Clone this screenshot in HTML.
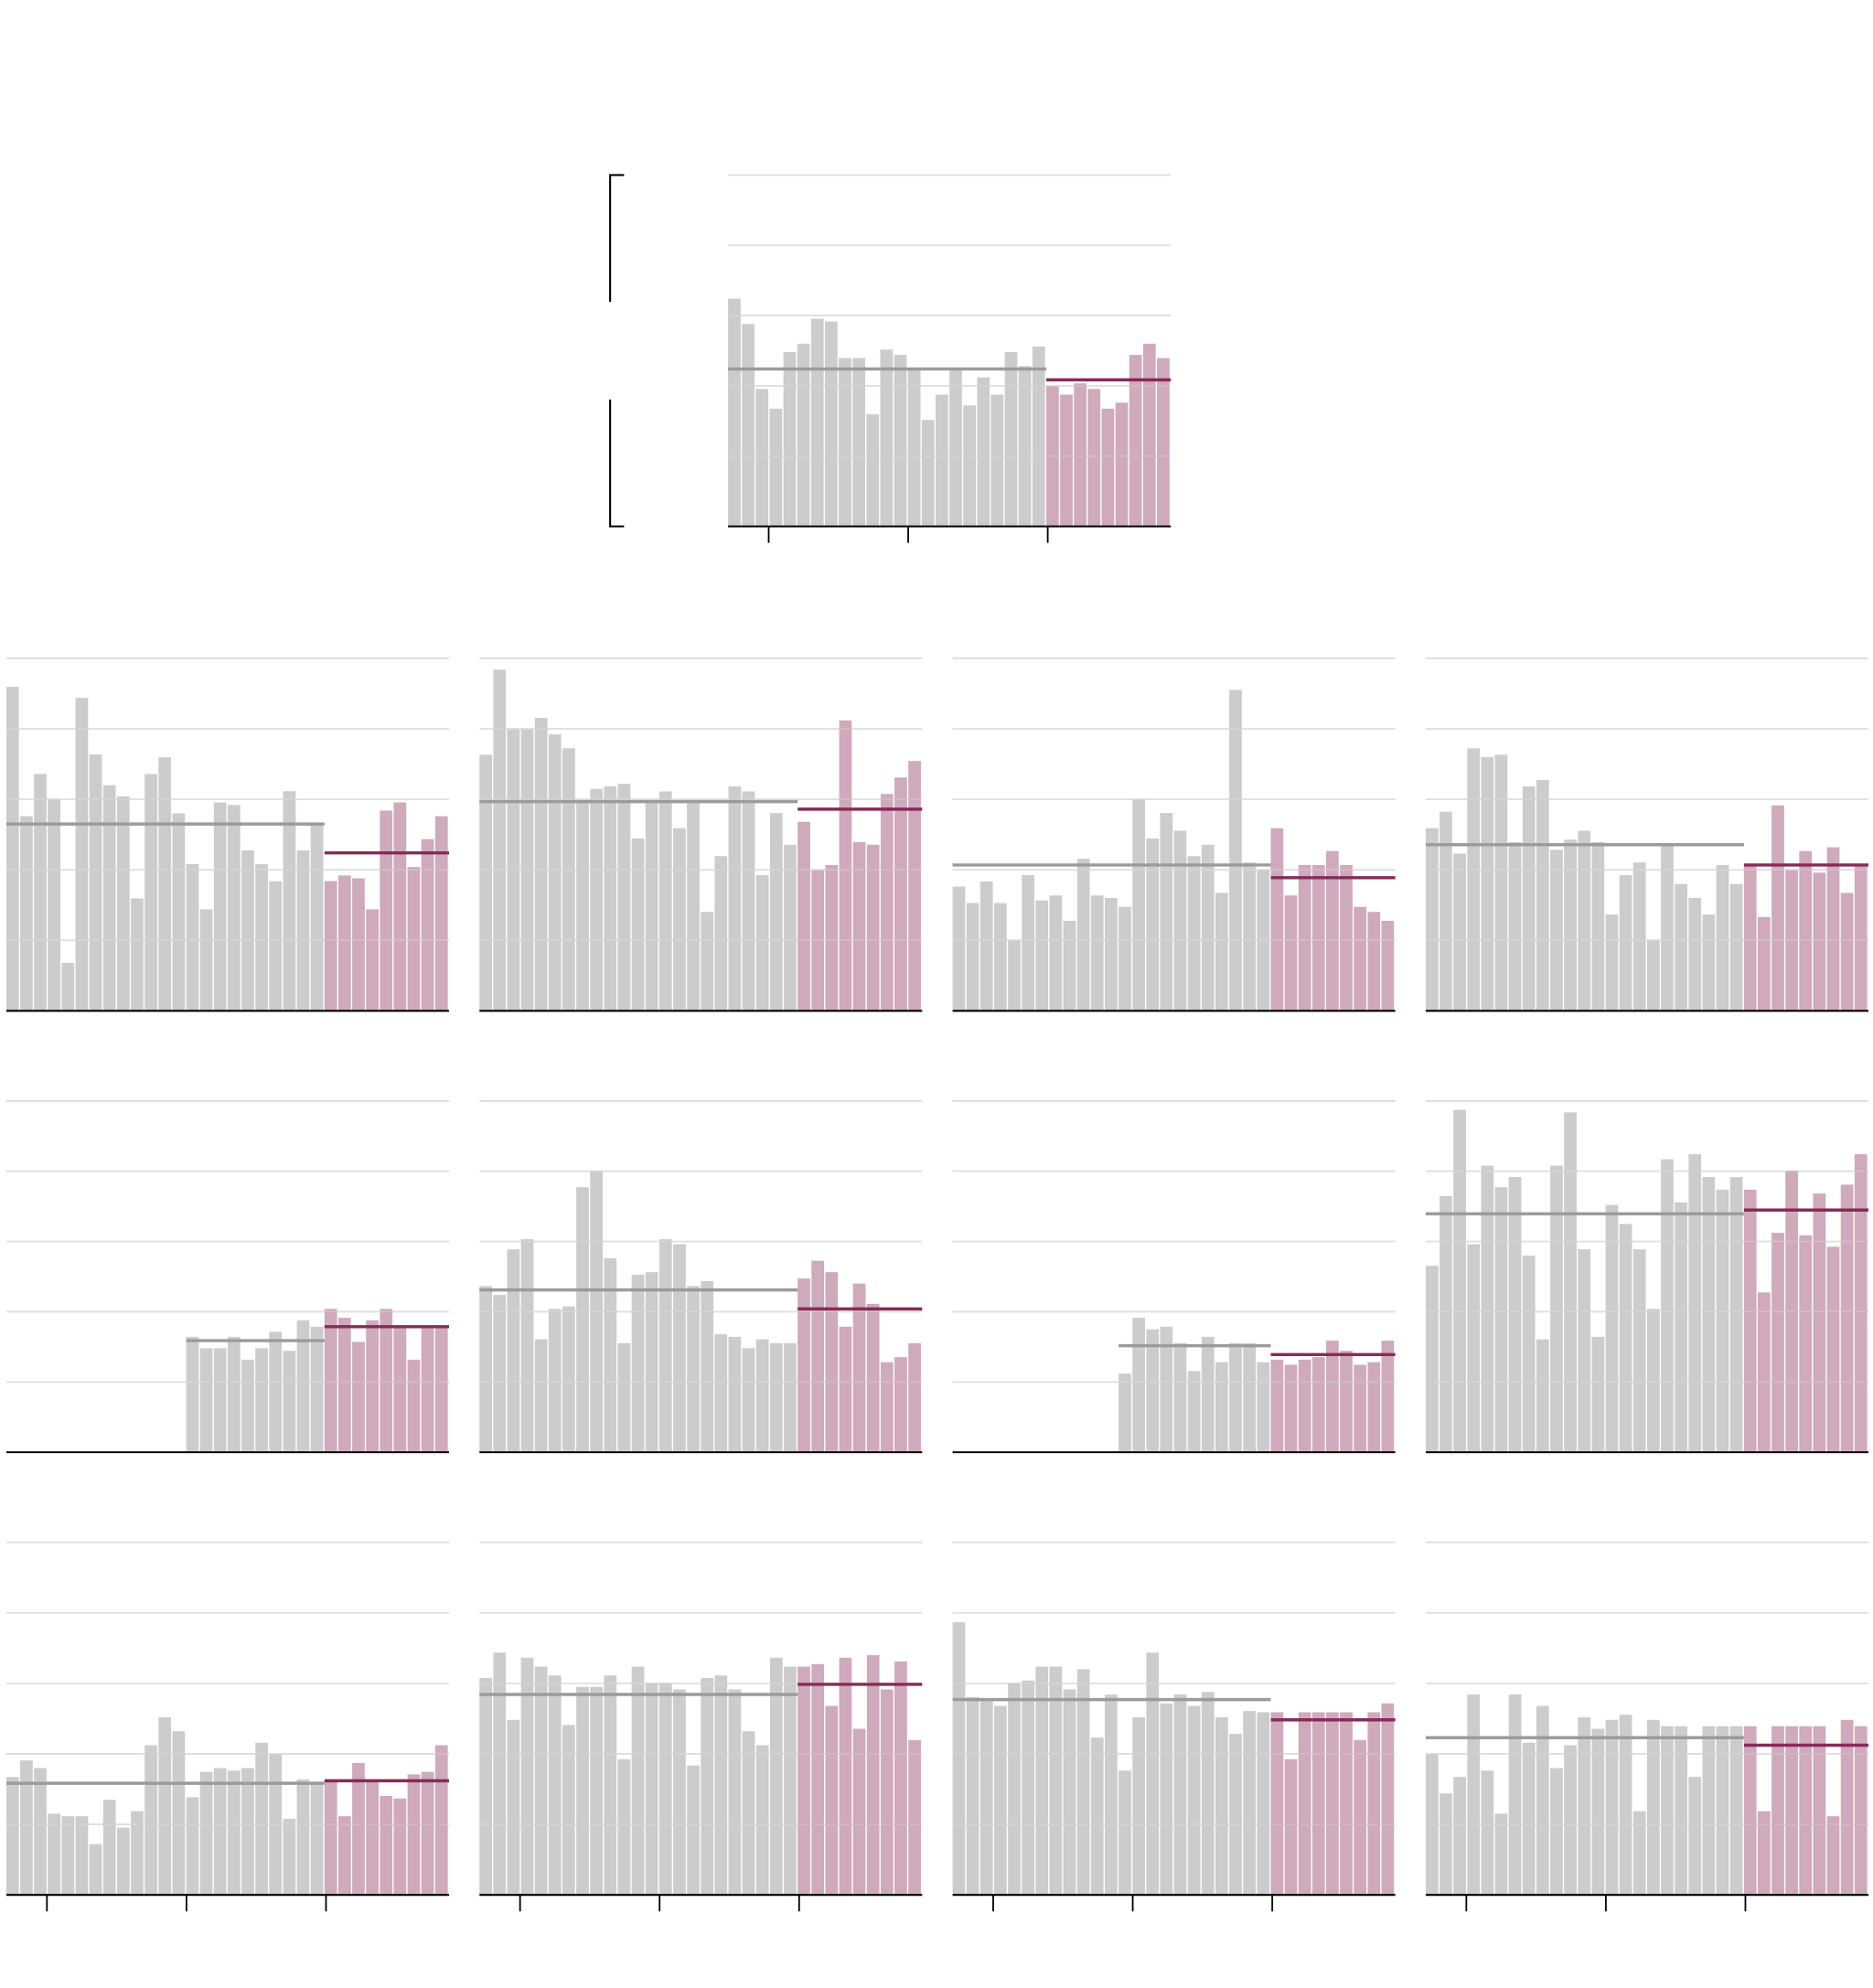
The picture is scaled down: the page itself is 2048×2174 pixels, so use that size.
<!DOCTYPE html>
<html><head><meta charset="utf-8">
<style>html,body{margin:0;padding:0;background:#fff;}svg{display:block;}</style>
</head><body>
<svg id="s" xmlns="http://www.w3.org/2000/svg" width="2048" height="2174" viewBox="0 0 1476.6 1567.4" preserveAspectRatio="none"></svg>
<script>
var NS="http://www.w3.org/2000/svg",S=document.getElementById("s");
function el(t,a){var e=document.createElementNS(NS,t);for(var k in a)e.setAttribute(k,a[k]);S.appendChild(e);return e;}
function panel(x0,top,base,gray,pink,gm,pm,gstart,ticks){
  var w=349,bw=w/32,H=base-top;
  for(var i=0;i<5;i++){var y=top+i*H/5;el("line",{x1:x0,x2:x0+w,y1:y,y2:y,stroke:"#dcdcdc","stroke-width":1.3});}
  var gs=gstart||0;
  for(var i=0;i<gray.length;i++){var bx=x0+(gs+i)*bw;el("rect",{x:bx,y:gray[i],width:bw-1,height:base-gray[i],fill:"#cccccc"});}
  for(var i=0;i<pink.length;i++){var bx=x0+(23+i)*bw;el("rect",{x:bx,y:pink[i],width:bw-1,height:base-pink[i],fill:"#cfa9bc"});}
  for(var i=1;i<5;i++){var y=top+i*H/5;el("line",{x1:x0,x2:x0+w,y1:y,y2:y,stroke:"#e4e4e4","stroke-width":1,"stroke-opacity":0.35});}
  el("line",{x1:x0+gs*bw,x2:x0+23*bw,y1:gm,y2:gm,stroke:"#9b9b9b","stroke-width":2.5});
  el("line",{x1:x0+23*bw,x2:x0+w,y1:pm,y2:pm,stroke:"#862b59","stroke-width":2.5});
  el("line",{x1:x0,x2:x0+w,y1:base,y2:base,stroke:"#000","stroke-width":1.5});
  if(ticks){[32,142,252].forEach(function(d){el("line",{x1:x0+d,x2:x0+d,y1:base,y2:base+13,stroke:"#000","stroke-width":1.3});});}
}
(function(){
  var top=138,base=415,H=base-top;
  var g=[.648,.576,.391,.335,.496,.520,.591,.583,.479,.479,.319,.503,.488,.448,.303,.375,.448,.344,.424,.375,.496,.456,.512];
  var p=[.399,.375,.407,.391,.335,.352,.488,.520,.479];
  panel(574,top,base,g.map(function(v){return base-v*H;}),p.map(function(v){return base-v*H;}),base-.448*H,base-.417*H,0,true);
  el("path",{d:"M492,138 H481 V238",fill:"none",stroke:"#000","stroke-width":1.5});
  el("path",{d:"M481,315 V415 H492",fill:"none",stroke:"#000","stroke-width":1.5});
})();
(function(){
  var top=519,base=797,H=base-top;
  var g=[.919,.552,.672,.601,.136,.888,.727,.640,.608,.319,.672,.719,.560,.416,.288,.591,.584,.455,.416,.368,.623,.455,.528];
  var p=[.368,.384,.376,.288,.568,.591,.408,.487,.552];
  panel(5,top,base,g.map(function(v){return base-v*H;}),p.map(function(v){return base-v*H;}),base-.530*H,base-.448*H,0,false);
})();
panel(378,519,797,[595,528,575,575,566,579,590,632,622,620,618,661,632,624,653,632,719,675,620,624,690,641,666],[648,686,682,568,664,666,626,613,600],632,638,0,false);
panel(751,519,797,[699,712,695,712,741,690,710,706,726,677,706,708,715,630,661,641,655,675,666,704,544,680,686],[653,706,682,682,671,682,715,719,726],682,692,0,false);
panel(1124,519,797,[653,640,673,590,597,595,664,620,615,670,662,655,664,721,690,680,741,666,697,708,721,682,697],[682,723,635,686,671,688,668,704,682],666,682,0,false);
panel(5,868,1145,[1054,1063,1063,1054,1072,1063,1050,1065,1041,1046],[1032,1039,1058,1041,1032,1046,1072,1046,1046],1057,1046,13,false);
panel(378,868,1145,[1014,1021,985,977,1056,1032,1030,936,923,992,1059,1005,1003,977,981,1014,1010,1052,1054,1063,1056,1059,1059],[1008,994,1003,1046,1012,1028,1074,1070,1059],1017,1032,0,false);
panel(751,868,1145,[1083,1039,1048,1046,1059,1081,1054,1074,1059,1059,1074],[1072,1076,1072,1070,1057,1065,1076,1074,1057],1061,1068,12,false);
panel(1124,868,1145,[998,943,875,981,919,936,928,990,1056,919,877,985,1054,950,965,985,1032,914,948,910,928,938,928],[938,1019,972,923,974,941,983,934,910],957,954,0,false);
panel(5,1216,1494,[1401,1388,1394,1430,1432,1432,1454,1419,1441,1428,1376,1354,1365,1417,1397,1394,1396,1394,1374,1383,1434,1403,1405],[1403,1432,1390,1405,1416,1418,1399,1397,1376],1406,1404,0,true);
panel(378,1216,1494,[1323,1303,1356,1307,1314,1321,1360,1330,1330,1321,1387,1314,1327,1327,1332,1392,1323,1321,1332,1365,1376,1307,1314],[1314,1312,1345,1307,1363,1305,1332,1310,1372],1336,1328,0,true);
panel(751,1216,1494,[1279,1338,1341,1345,1327,1325,1314,1314,1332,1316,1370,1336,1396,1354,1303,1343,1336,1345,1334,1354,1367,1349,1350],[1350,1387,1350,1350,1350,1350,1372,1350,1343],1340,1356,0,true);
panel(1124,1216,1494,[1383,1414,1401,1336,1396,1430,1336,1374,1345,1394,1376,1354,1363,1356,1352,1428,1356,1361,1361,1401,1361,1361,1361],[1361,1428,1361,1361,1361,1361,1432,1356,1361],1370,1376,0,true);
</script>
</body></html>
